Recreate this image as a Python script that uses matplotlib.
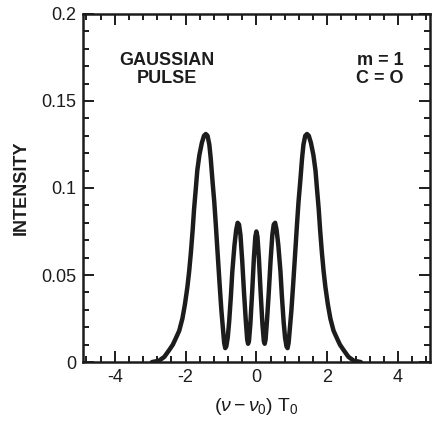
#!/usr/bin/env python3

import matplotlib
matplotlib.use('Agg')
import matplotlib.pyplot as plt
from matplotlib.ticker import MultipleLocator

plt.rcParams['font.family'] = ['Liberation Sans', 'DejaVu Sans']
plt.rcParams['mathtext.fontset'] = 'custom'
plt.rcParams['mathtext.rm'] = 'Liberation Sans'
plt.rcParams['mathtext.it'] = 'Liberation Sans:italic'

# spectrum
freq = [-2.95, -2.75, -2.6, -2.46, -2.36, -2.28, -2.18, -2.09, -2.02, -1.95,
        -1.90, -1.85, -1.80, -1.76, -1.71, -1.67, -1.61, -1.54, -1.48, -1.43,
        -1.38, -1.33, -1.29, -1.24, -1.19, -1.15, -1.10, -1.04, -0.99, -0.94,
        -0.91, -0.88, -0.85, -0.81, -0.77, -0.72, -0.68, -0.62, -0.57, -0.53,
        -0.49, -0.45, -0.40, -0.35, -0.30, -0.26, -0.235, -0.21, -0.17, -0.12,
        -0.07, -0.03, 0.0,
        0.03, 0.07, 0.12, 0.17, 0.21, 0.235, 0.26, 0.30, 0.35, 0.40,
        0.45, 0.49, 0.53, 0.57, 0.62, 0.68, 0.72, 0.77, 0.81, 0.85,
        0.88, 0.91, 0.94, 0.99, 1.04, 1.10, 1.15, 1.19, 1.24, 1.29,
        1.33, 1.38, 1.43, 1.48, 1.54, 1.61, 1.67, 1.71, 1.76, 1.80,
        1.85, 1.90, 1.95, 2.02, 2.09, 2.18, 2.28, 2.36, 2.46, 2.6,
        2.75, 2.95]
intensity = [0.0, 0.0008, 0.003, 0.007, 0.010, 0.0135, 0.018, 0.025, 0.033, 0.043,
             0.052, 0.063, 0.076, 0.088, 0.100, 0.110, 0.119, 0.126, 0.130, 0.131,
             0.130, 0.125, 0.117, 0.104, 0.092, 0.080, 0.064, 0.045, 0.030, 0.018,
             0.011, 0.008, 0.009, 0.014, 0.023, 0.038, 0.052, 0.067, 0.076, 0.080,
             0.079, 0.073, 0.058, 0.040, 0.024, 0.013, 0.0105, 0.012, 0.022, 0.040,
             0.060, 0.072, 0.075,
             0.072, 0.060, 0.040, 0.022, 0.012, 0.0105, 0.013, 0.024, 0.040, 0.058,
             0.073, 0.079, 0.080, 0.076, 0.067, 0.052, 0.038, 0.023, 0.014, 0.009,
             0.008, 0.011, 0.018, 0.030, 0.045, 0.064, 0.080, 0.092, 0.104, 0.117,
             0.125, 0.130, 0.131, 0.130, 0.126, 0.119, 0.110, 0.100, 0.088, 0.076,
             0.063, 0.052, 0.043, 0.033, 0.025, 0.018, 0.0135, 0.010, 0.007, 0.003,
             0.0008, 0.0]

xticks = [-4, -2, 0, 2, 4]
yticks = [0, 0.05, 0.1, 0.15, 0.2]
ytick_labels = ['0', '0.05', '0.1', '0.15', '0.2']

fig = plt.figure(figsize=(4.32, 4.21), dpi=100)
ax = fig.add_axes([0.192, 0.140, 0.803, 0.827])

ax.plot(freq, intensity, color='#1c1c1c', lw=3.2, solid_capstyle='round',
        solid_joinstyle='round', zorder=3)

ax.set_xlim(-4.9, 4.9)
ax.set_ylim(0, 0.2)
ax.set_xticks(xticks)
ax.set_xticklabels([str(t) for t in xticks])
ax.set_yticks(yticks)
ax.set_yticklabels(ytick_labels)
ax.xaxis.set_minor_locator(MultipleLocator(0.4))
ax.yaxis.set_minor_locator(MultipleLocator(0.01))

ax.tick_params(which='both', direction='in', top=True, right=True,
               width=1.4, color='#1c1c1c', labelsize=13, labelcolor='#1c1c1c')
ax.tick_params(which='major', length=8, pad=5)
ax.tick_params(which='minor', length=4)
for sp in ax.spines.values():
    sp.set_linewidth(1.8)
    sp.set_color('#1c1c1c')

ax.set_ylabel('INTENSITY', fontsize=13, fontweight='bold', color='#1c1c1c',
              labelpad=8)
ax.set_xlabel(r'$(\nu-\nu_0)$ T$_0$', fontsize=14, color='#1c1c1c', labelpad=7)

ax.text(-2.54, 0.168, 'GAUSSIAN\nPULSE', ha='center', va='center', fontsize=13,
        fontweight='bold', color='#1c1c1c', linespacing=1.05)
ax.text(4.15, 0.168, 'm = 1\nC = O', ha='right', va='center', fontsize=13,
        fontweight='bold', color='#1c1c1c', linespacing=1.05)

fig.savefig('out.png', dpi=100)
